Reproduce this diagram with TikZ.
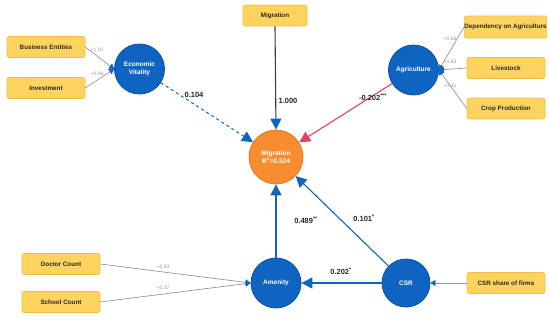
\documentclass[tikz,border=0pt]{standalone}
\usepackage{fontspec}
\setmainfont{Liberation Sans}
\usetikzlibrary{arrows.meta}
\definecolor{cblue}{RGB}{14,100,192}
\definecolor{cblueedge}{RGB}{10,80,160}
\definecolor{corange}{RGB}{247,140,48}
\definecolor{coredge}{RGB}{230,120,30}
\definecolor{boxfill}{RGB}{255,211,95}
\definecolor{boxedge}{RGB}{242,188,70}
\definecolor{cred}{RGB}{220,70,95}
\definecolor{cgrey}{RGB}{150,150,150}
\definecolor{ctext}{RGB}{40,40,40}
\tikzset{
  construct/.style={circle,fill=cblue,draw=cblueedge,line width=0.8pt,minimum size=50pt,inner sep=0pt,text=white,font=\fontsize{6.5}{8}\selectfont\bfseries,align=center},
  indbox/.style={rectangle,rounded corners=2pt,fill=boxfill,draw=boxedge,line width=0.6pt,minimum width=78pt,minimum height=21pt,inner sep=0pt,text=ctext,font=\fontsize{6.3}{7}\selectfont\bfseries},
  loadline/.style={draw=cgrey,line width=0.7pt,-{Triangle[length=5pt,width=6pt,fill=cblue,color=cblue]}},
  pathline/.style={draw=cblue,line width=1.1pt,-{Triangle[length=11pt,width=11pt]}},
  loadlab/.style={text=cgrey,font=\fontsize{5}{6}\selectfont},
  pathlab/.style={text=ctext,font=\fontsize{7.5}{9}\selectfont\bfseries},
}
\begin{document}
\begin{tikzpicture}[x=1pt,y=-1pt]
\useasboundingbox (0,0) rectangle (550,319);
% constructs
\node[construct] (ev) at (139.5,69) {Economic\\Vitality};
\node[construct] (agr) at (413.5,70) {Agriculture};
\node[construct,fill=corange,draw=coredge,minimum size=54pt] (mig) at (276,157) {Migration\\R\textsuperscript{2}=0.524};
\node[construct] (am) at (276,283) {Amenity};
\node[construct,minimum size=48pt] (csr) at (406,283) {CSR};
% indicators
\node[indbox] (be) at (46,47) {Business Entities};
\node[indbox] (inv) at (46,88) {Investment};
\node[indbox,minimum width=64pt] (migi) at (275,15.5) {Migration};
\node[indbox,minimum width=79pt,minimum height=22pt] (dep) at (505.5,27) {Dependency on Agriculture};
\node[indbox] (live) at (506,68) {Livestock};
\node[indbox] (crop) at (506,108.5) {Crop Production};
\node[indbox] (doc) at (61,264) {Doctor Count};
\node[indbox] (sch) at (61,302) {School Count};
\node[indbox] (csrs) at (506,283) {CSR share of firms};
% loadings
\draw[loadline] (be.east) -- (ev.west);
\draw[loadline] (inv.east) -- (ev.west);
\draw[loadline] (dep.west) -- (agr.east);
\draw[loadline] (live.west) -- (agr.east);
\draw[loadline] (crop.west) -- (agr.east);
\draw[loadline] (doc.east) -- (am.west);
\draw[loadline] (sch.east) -- (am.west);
\draw[loadline] (csrs.west) -- (csr.east);
\node[loadlab] (l1) at (97,49.5) {+1.00};
\node[loadlab] (l2) at (97,74) {+0.96};
\node[loadlab] (l3) at (450,39) {+0.66};
\node[loadlab] (l4) at (450,62) {+0.65};
\node[loadlab] (l5) at (450,86) {+0.41};
\node[loadlab] (l6) at (163,267) {+0.93};
\node[loadlab] (l7) at (163,288) {+0.37};
% paths
\draw[pathline,dashed,line width=1pt] (ev) -- (mig);
\draw[pathline,draw=ctext!90,-{Triangle[length=11pt,width=11pt,color=cblue]}] (migi.south) -- (mig.north);
\draw[pathline,draw=cred,-{Triangle[length=11pt,width=11pt,color=cred]}] (agr) -- (mig);
\draw[pathline] (am) -- (mig);
\draw[pathline] (csr) -- (mig);
\draw[pathline] (csr) -- (am);
\node[pathlab] (p1) at (194,95) {0.104};
\node[pathlab] (p2) at (288,101) {1.000};
\node[pathlab] (p3) at (373,97) {-0.202\textsuperscript{***}};
\node[pathlab] (p4) at (306,220) {0.489\textsuperscript{**}};
\node[pathlab] (p5) at (364,218) {0.101\textsuperscript{*}};
\node[pathlab] (p6) at (341,271) {0.202\textsuperscript{*}};
\end{tikzpicture}
\end{document}
